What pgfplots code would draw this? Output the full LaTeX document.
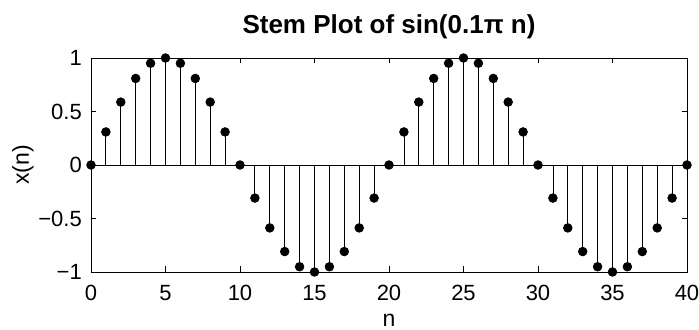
\documentclass[border=0pt]{standalone}
\usepackage{fontspec}
\setmainfont{Liberation Sans}
\usepackage{pgfplots}
\pgfplotsset{compat=1.18}
\begin{document}
\begin{tikzpicture}
\begin{axis}[
  at={(0,0)}, anchor=south west,
  scale only axis, width=596bp, height=214bp,
  xmin=0, xmax=40, ymin=-1, ymax=1,
  xtick={0,5,...,40},
  ytick={-1,-0.5,0,0.5,1},
  yticklabels={−1,−0.5,0,0.5,1},
  /pgf/number format/assume math mode=true,
  tick label style={font=\fontsize{22bp}{24bp}\selectfont},
  xticklabel style={anchor=base, inner sep=0pt, yshift=-28bp},
  yticklabel style={anchor=east, inner sep=0pt, xshift=-9bp},
  major tick length=5.5bp,
  tick style={black, line width=0.8bp},
  axis line style={black, line width=0.8bp},
  xlabel={n}, ylabel={x(n)},
  every axis x label/.style={at={([yshift=-54bp]axis description cs:0.5,0)}, anchor=base, font=\fontsize{23bp}{25bp}\selectfont},
  every axis y label/.style={at={([xshift=-62bp]axis description cs:0,0.5)}, anchor=base, rotate=90, font=\fontsize{23bp}{25bp}\selectfont},
  title={\textbf{Stem Plot of sin(0.1π n)}},
  every axis title/.style={at={([yshift=24bp]axis description cs:0.5,1)}, anchor=base, font=\fontsize{26bp}{28bp}\selectfont},
  clip=false,
]
\addplot[black, line width=0.8bp] coordinates {(0,0) (40,0)};
\addplot[ycomb, black, line width=0.8bp, mark=*, mark size=4.3bp, mark options={fill=black}] coordinates {
(0,0) (1,0.309) (2,0.588) (3,0.809) (4,0.951) (5,1) (6,0.951) (7,0.809) (8,0.588) (9,0.309)
(10,0) (11,-0.309) (12,-0.588) (13,-0.809) (14,-0.951) (15,-1) (16,-0.951) (17,-0.809) (18,-0.588) (19,-0.309)
(20,0) (21,0.309) (22,0.588) (23,0.809) (24,0.951) (25,1) (26,0.951) (27,0.809) (28,0.588) (29,0.309)
(30,0) (31,-0.309) (32,-0.588) (33,-0.809) (34,-0.951) (35,-1) (36,-0.951) (37,-0.809) (38,-0.588) (39,-0.309)
(40,0)};
\end{axis}
\pgfresetboundingbox
\path[use as bounding box] (-91bp,-58bp) rectangle (608bp,272bp);
\end{tikzpicture}
\end{document}
